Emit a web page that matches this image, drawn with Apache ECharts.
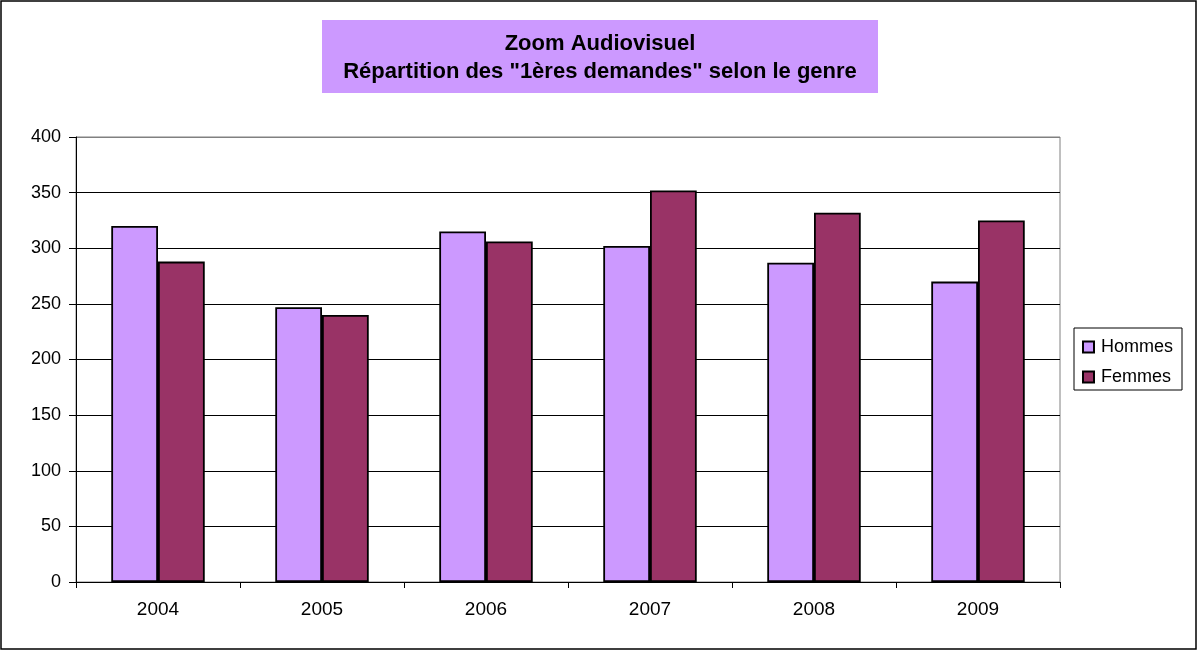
<!DOCTYPE html>
<html>
<head>
<meta charset="utf-8">
<script src="https://cdn.jsdelivr.net/npm/echarts@6/dist/echarts.min.js"></script>
<style>
  html, body { margin: 0; padding: 0; background: #fff; }
  #chart { width: 1198px; height: 651px; }
</style>
</head>
<body>
<div id="chart"></div>
<script>
  var years = ['2004', '2005', '2006', '2007', '2008', '2009'];
  var hommes = [320, 247, 315, 302, 287, 270];
  var femmes = [288, 240, 306, 352, 332, 325];
  var yTicks = { min: 0, max: 400, interval: 50 };
  var titleLines = ['Zoom Audiovisuel', 'Répartition des "1ères demandes" selon le genre'];

  var font = '"Liberation Sans", Arial, sans-serif';
  // top gridline is the plot border colour (grey), the others black
  var splitColors = ['#000', '#000', '#000', '#000', '#000', '#000', '#000', '#000', '#808080'];

  var chart = echarts.init(document.getElementById('chart'));
  chart.setOption({
    animation: false,
    textStyle: { fontFamily: font },
    graphic: [
      {
        type: 'rect',
        shape: { x: 1, y: 1, width: 1195, height: 648 },
        style: { fill: 'none', stroke: '#000', lineWidth: 1.5 },
        silent: true
      },
      {
        type: 'rect',
        shape: { x: 322, y: 20, width: 556, height: 73 },
        style: { fill: '#cc99ff' },
        silent: true
      },
      {
        type: 'text',
        x: 600,
        y: 58,
        style: {
          text: titleLines.join('\n'),
          font: 'bold 22px ' + font,
          fill: '#000',
          align: 'center',
          verticalAlign: 'middle',
          textAlign: 'center',
          textVerticalAlign: 'middle',
          lineHeight: 28
        },
        silent: true
      }
    ],
    legend: {
      orient: 'vertical',
      left: 1074,
      top: 328,
      data: ['Hommes', 'Femmes'],
      icon: 'rect',
      itemWidth: 11,
      itemHeight: 11,
      itemGap: 12,
      padding: [10, 9, 4, 8],
      borderColor: '#000',
      borderWidth: 1,
      textStyle: { fontFamily: font, fontSize: 18, color: '#000', padding: [0, 0, 0, 2] }
    },
    grid: {
      left: 76,
      right: 138,
      top: 137,
      bottom: 69,
      show: true,
      borderColor: '#808080',
      borderWidth: 1
    },
    xAxis: {
      type: 'category',
      data: years,
      axisLine: { lineStyle: { color: '#000', width: 1 } },
      axisTick: { show: true, alignWithLabel: false, length: 6, lineStyle: { color: '#000' } },
      axisLabel: { fontFamily: font, fontSize: 19, color: '#000', margin: 18 }
    },
    yAxis: {
      type: 'value',
      min: yTicks.min,
      max: yTicks.max,
      interval: yTicks.interval,
      axisLine: { show: true, lineStyle: { color: '#000', width: 1 } },
      axisTick: { show: true, length: 7, lineStyle: { color: '#000' } },
      axisLabel: { fontFamily: font, fontSize: 18, color: '#000', margin: 15 },
      splitLine: { lineStyle: { color: splitColors, width: 1 } }
    },
    series: [
      {
        name: 'Hommes',
        type: 'bar',
        data: hommes,
        barGap: '0%',
        barCategoryGap: '43%',
        itemStyle: { color: '#cc99ff', borderColor: '#000', borderWidth: 1.8 }
      },
      {
        name: 'Femmes',
        type: 'bar',
        data: femmes,
        itemStyle: { color: '#993366', borderColor: '#000', borderWidth: 1.8 }
      }
    ]
  });
</script>
</body>
</html>
